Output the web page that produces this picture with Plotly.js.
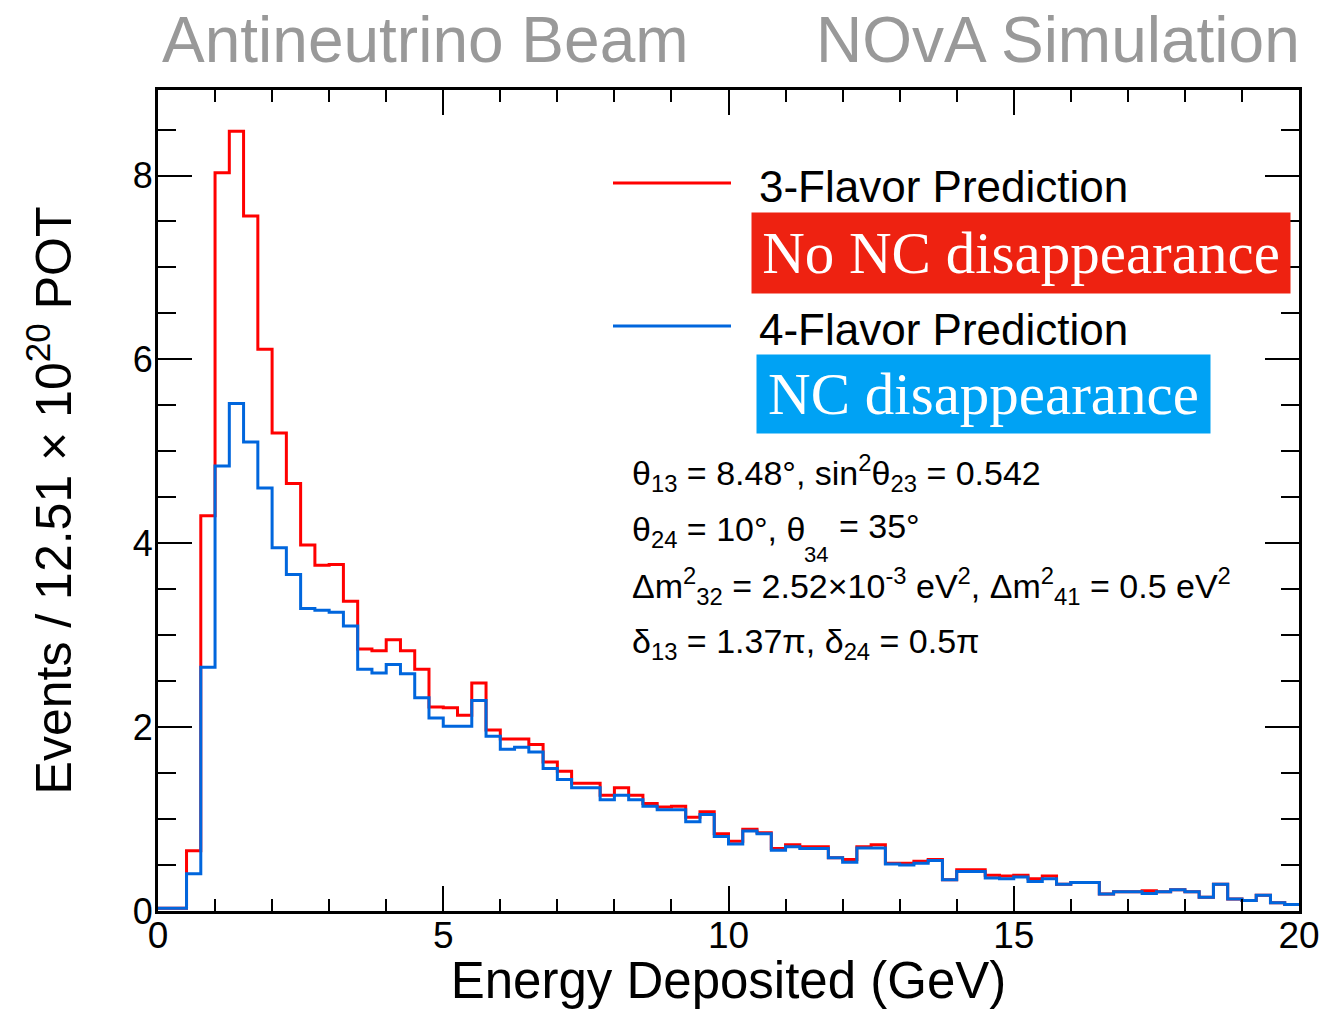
<!DOCTYPE html>
<html>
<head>
<meta charset="utf-8">
<script src="https://cdn.plot.ly/plotly-3.0.1.min.js"></script>
<style>
  html, body { margin: 0; padding: 0; background: #ffffff; }
  #chart { width: 1339px; height: 1009px; }
</style>
</head>
<body>
<div id="chart"></div>
<script>
// ---- Data ----
const binStart = 0;      // GeV
const binWidth = 0.25;   // GeV
const threeFlavor = [
  0.03, 0.03, 0.655, 4.30, 8.03, 8.48, 7.56, 6.11, 5.20, 4.65,
  3.98, 3.76, 3.77, 3.37, 2.85, 2.83, 2.95, 2.83, 2.63, 2.22,
  2.21, 2.13, 2.48, 1.97, 1.87, 1.87, 1.81, 1.62, 1.52, 1.39,
  1.39, 1.26, 1.34, 1.26, 1.17, 1.13, 1.14, 1.02, 1.08, 0.84,
  0.76, 0.89, 0.85, 0.68, 0.72, 0.70, 0.70, 0.58, 0.56, 0.70,
  0.72, 0.52, 0.52, 0.54, 0.56, 0.34, 0.45, 0.45, 0.39, 0.38,
  0.39, 0.35, 0.38, 0.29, 0.31, 0.31, 0.185, 0.21, 0.21, 0.22,
  0.21, 0.23, 0.21, 0.15, 0.29, 0.13, 0.115, 0.17, 0.09, 0.07
];
const fourFlavor = [
  0.03, 0.03, 0.405, 2.65, 4.84, 5.52, 5.10, 4.60, 3.95, 3.66,
  3.29, 3.27, 3.25, 3.10, 2.63, 2.59, 2.68, 2.58, 2.32, 2.10,
  2.01, 2.01, 2.29, 1.90, 1.76, 1.78, 1.73, 1.55, 1.43, 1.34,
  1.34, 1.21, 1.26, 1.21, 1.14, 1.10, 1.10, 0.97, 1.05, 0.81,
  0.73, 0.87, 0.84, 0.66, 0.70, 0.68, 0.68, 0.58, 0.53, 0.685,
  0.685, 0.51, 0.50, 0.52, 0.55, 0.34, 0.43, 0.43, 0.36, 0.35,
  0.37, 0.32, 0.35, 0.29, 0.31, 0.31, 0.185, 0.21, 0.21, 0.19,
  0.21, 0.23, 0.21, 0.15, 0.29, 0.13, 0.115, 0.17, 0.09, 0.07
];
const seriesNames = ["3-Flavor Prediction", "4-Flavor Prediction"];
const boxLabels = ["No NC disappearance", "NC disappearance"];
const xTitle = "Energy Deposited (GeV)";
const yTitle = "Events / 12.51 \u00d7 10<sup>20</sup> POT";
const topLeftText = "Antineutrino Beam";
const topRightText = "NOvA Simulation";

// ---- Build step-histogram coordinates from bin edges ----
function stepXY(vals) {
  const xs = [], ys = [];
  for (let i = 0; i < vals.length; i++) { xs.push(binStart + i * binWidth); ys.push(vals[i]); }
  xs.push(binStart + vals.length * binWidth); ys.push(vals[vals.length - 1]);
  return {xs, ys};
}
const red = stepXY(threeFlavor), blue = stepXY(fourFlavor);

// ---- Layout helpers (pixel -> paper) ----
const L = 158, R = 1299, T = 90, B = 911;
const W = R - L, H = B - T;
const px = x => (x - L) / W;
const py = y => (B - y) / H;

const SANS = "Liberation Sans, Arial, Helvetica, sans-serif";
const SERIF = "Liberation Serif, Times New Roman, serif";

const traces = [
  { x: red.xs, y: red.ys, type: "scatter", mode: "lines", name: seriesNames[0],
    line: { shape: "hv", color: "#ff0000", width: 3 }, hoverinfo: "x+y" },
  { x: blue.xs, y: blue.ys, type: "scatter", mode: "lines", name: seriesNames[1],
    line: { shape: "hv", color: "#0066dd", width: 3 }, hoverinfo: "x+y" }
];

const ann = [];
function txt(text, x, y, size, opts) {
  ann.push(Object.assign({ text, xref: "paper", yref: "paper", x: px(x), y: py(y),
    xanchor: "left", yanchor: "middle", showarrow: false,
    font: { family: SANS, size, color: "#000" } }, opts || {}));
}
txt(topLeftText, 160, 40, 64, { font: { family: SANS, size: 64, color: "#999999" } });
txt(topRightText, 1302, 40, 64, { xanchor: "right", font: { family: SANS, size: 64, color: "#999999" } });
txt(seriesNames[0], 757, 186, 44);
txt(seriesNames[1], 757, 329, 44);
ann.push({ text: boxLabels[0], xref: "paper", yref: "paper", x: px(751), y: py(253),
  xanchor: "left", yanchor: "middle", showarrow: false, bgcolor: "#ee2211",
  width: 538, height: 80, borderpad: 0, align: "center", valign: "middle",
  font: { family: SERIF, size: 59, color: "#ffffff" } });
ann.push({ text: boxLabels[1], xref: "paper", yref: "paper", x: px(756), y: py(394),
  xanchor: "left", yanchor: "middle", showarrow: false, bgcolor: "#00a2f4",
  width: 453, height: 78, borderpad: 0, align: "center", valign: "middle",
  font: { family: SERIF, size: 59, color: "#ffffff" } });
txt("\u03b8<sub>13</sub> = 8.48\u00b0, sin<sup>2</sup>\u03b8<sub>23</sub> = 0.542", 630, 473, 34);
txt("\u03b8<sub>24</sub> = 10\u00b0, \u03b8", 630, 531, 34);
txt("= 35\u00b0", 837, 526, 34);
txt("34", 816, 554, 22, { xanchor: "center" });
txt("\u0394m<sup>2</sup><sub>32</sub> = 2.52\u00d710<sup>-3</sup> eV<sup>2</sup>, \u0394m<sup>2</sup><sub>41</sub> = 0.5 eV<sup>2</sup>", 630, 586, 34);
txt("\u03b4<sub>13</sub> = 1.37\u03c0, \u03b4<sub>24</sub> = 0.5\u03c0", 630, 643, 34);

const shapes = [
  { type: "line", xref: "paper", yref: "paper", x0: px(613), x1: px(731), y0: py(183), y1: py(183),
    line: { color: "#ff0000", width: 3 } },
  { type: "line", xref: "paper", yref: "paper", x0: px(613), x1: px(731), y0: py(326), y1: py(326),
    line: { color: "#0066dd", width: 3 } }
];

const layout = {
  width: 1339, height: 1009,
  margin: { l: L, r: 1339 - R, t: T, b: 1009 - B, pad: 0 },
  paper_bgcolor: "#ffffff", plot_bgcolor: "#ffffff",
  showlegend: false,
  xaxis: {
    range: [0, 20], tick0: 0, dtick: 5, ticks: "inside", ticklen: 25, tickwidth: 2, tickcolor: "#000",
    minor: { dtick: 1, ticks: "inside", ticklen: 12, tickwidth: 2, tickcolor: "#000" },
    showline: true, linewidth: 3, linecolor: "#000", mirror: "ticks",
    showgrid: false, zeroline: false, ticklabelstandoff: -10,
    tickfont: { family: SANS, size: 37, color: "#000" },
    title: { text: xTitle, font: { family: SANS, size: 51, color: "#000" }, standoff: 19 }
  },
  yaxis: {
    range: [0, 8.93], tick0: 0, dtick: 2, ticks: "inside", ticklen: 34, tickwidth: 2, tickcolor: "#000",
    minor: { dtick: 0.5, ticks: "inside", ticklen: 18, tickwidth: 2, tickcolor: "#000" },
    showline: true, linewidth: 3, linecolor: "#000", mirror: "ticks",
    showgrid: false, zeroline: false, ticklabelstandoff: -5,
    tickfont: { family: SANS, size: 36, color: "#000" },
    title: { text: yTitle, font: { family: SANS, size: 50, color: "#000" }, standoff: 46 }
  },
  annotations: ann,
  shapes: shapes
};

Plotly.newPlot("chart", traces, layout, { displayModeBar: false, staticPlot: true });
</script>
</body>
</html>
